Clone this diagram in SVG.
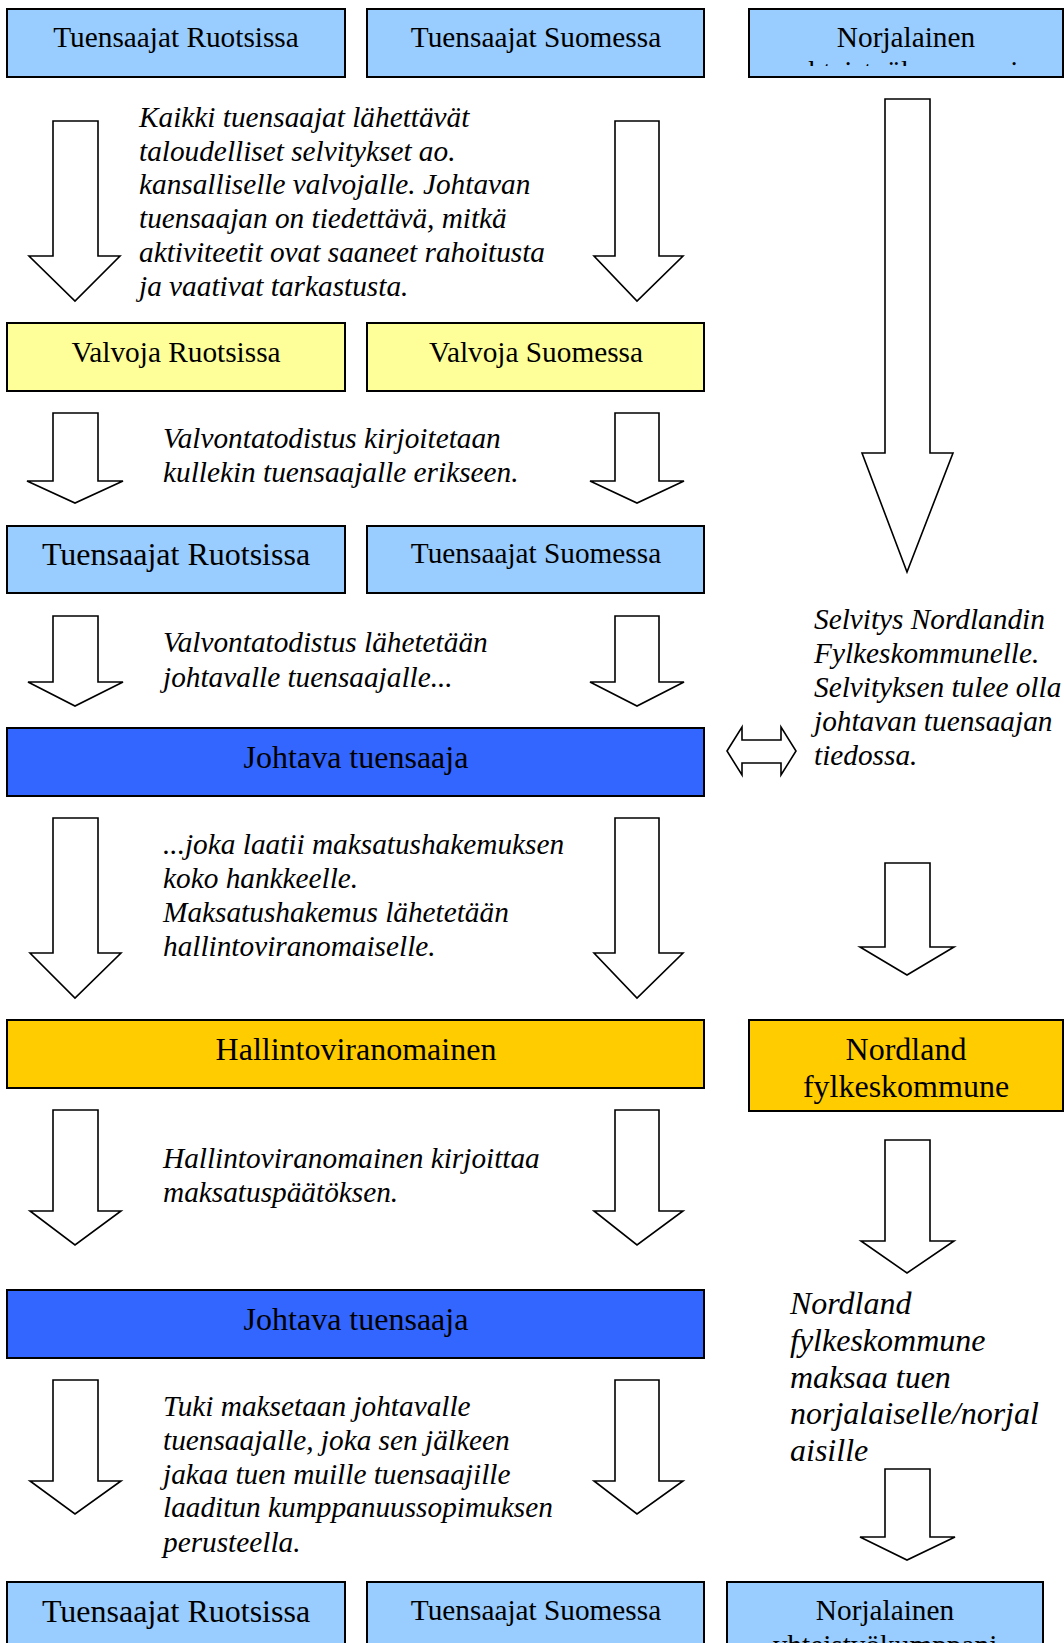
<svg xmlns="http://www.w3.org/2000/svg" width="1064" height="1643" viewBox="0 0 1064 1643">
<style>
.box{stroke:#000;stroke-width:2}
.lb{fill:#99CCFF}.yl{fill:#FFFF99}.db{fill:#3366FF}.gd{fill:#FFCC00}
.t{font-family:"Liberation Serif","Times New Roman",serif;fill:#000;text-anchor:middle}
.s29{font-size:29.3px}.s32{font-size:32px}
.p{font-family:"Liberation Serif","Times New Roman",serif;font-style:italic;fill:#000;font-size:29.3px}
.p32{font-size:32px}
.arr{fill:#fff;stroke:#000;stroke-width:1.6;stroke-linejoin:miter}
</style>
<defs>
<clipPath id="clipTopC"><rect x="749" y="9" width="314" height="57"/></clipPath>
<clipPath id="clipBotC"><rect x="727" y="1582" width="316" height="61"/></clipPath>
</defs>
<rect x="0" y="0" width="1064" height="1643" fill="#fff"/>

<g id="connectors">
<polygon class="arr" points="53,121 98,121 98,256 120,256 75,301 29,256 53,256"/>
<polygon class="arr" points="615,121 659,121 659,256 683,256 637,301 594,256 615,256"/>
<polygon class="arr" points="885,99 930,99 930,453 953,453 907,572 862,453 885,453"/>
<polygon class="arr" points="53,413 98,413 98,481 123,481 75,503 27,481 53,481"/>
<polygon class="arr" points="615,413 659,413 659,481 684,481 637,503 590,481 615,481"/>
<polygon class="arr" points="53,616 98,616 98,682 123,682 75,706 28,682 53,682"/>
<polygon class="arr" points="615,616 659,616 659,682 684,682 637,706 590,682 615,682"/>
<polygon class="arr" points="727,751 742,727 742,740 781,740 781,727 796,751 781,775 781,763 742,763 742,775"/>
<polygon class="arr" points="53,818 98,818 98,953 121,953 75,998 30,953 53,953"/>
<polygon class="arr" points="615,818 659,818 659,953 683,953 637,998 594,953 615,953"/>
<polygon class="arr" points="885,863 930,863 930,947 954,947 907,975 860,947 885,947"/>
<polygon class="arr" points="53,1110 98,1110 98,1211 121,1211 75,1245 30,1211 53,1211"/>
<polygon class="arr" points="615,1110 659,1110 659,1211 683,1211 637,1245 594,1211 615,1211"/>
<polygon class="arr" points="885,1140 930,1140 930,1241 954,1241 907,1273 861,1241 885,1241"/>
<polygon class="arr" points="53,1380 98,1380 98,1481 121,1481 75,1514 30,1481 53,1481"/>
<polygon class="arr" points="615,1380 659,1380 659,1481 683,1481 637,1514 594,1481 615,1481"/>
<polygon class="arr" points="885,1469 930,1469 930,1537 955,1537 907,1560 860,1537 885,1537"/>
</g>

<g id="n_top_ruotsi"><rect class="box lb" x="7" y="9" width="338" height="68"/><text class="t s29" x="176" y="47">Tuensaajat Ruotsissa</text></g>
<g id="n_top_suomi"><rect class="box lb" x="367" y="9" width="337" height="68"/><text class="t s29" x="536" y="47">Tuensaajat Suomessa</text></g>
<g id="n_top_norja"><rect class="box lb" x="749" y="9" width="314" height="68"/>
<g clip-path="url(#clipTopC)"><text class="t s29" x="906" y="47">Norjalainen</text><text class="t s29" x="906" y="80.5">yhteistyökumppani</text></g></g>

<g id="n_valvoja_ruotsi"><rect class="box yl" x="7" y="323" width="338" height="68"/><text class="t s29" x="176" y="362">Valvoja Ruotsissa</text></g>
<g id="n_valvoja_suomi"><rect class="box yl" x="367" y="323" width="337" height="68"/><text class="t s29" x="536" y="362">Valvoja Suomessa</text></g>

<g id="n_mid_ruotsi"><rect class="box lb" x="7" y="526" width="338" height="67"/><text class="t s32" x="176" y="565">Tuensaajat Ruotsissa</text></g>
<g id="n_mid_suomi"><rect class="box lb" x="367" y="526" width="337" height="67"/><text class="t s29" x="536" y="563">Tuensaajat Suomessa</text></g>

<g id="n_johtava1"><rect class="box db" x="7" y="728" width="697" height="68"/><text class="t s32" x="356" y="768">Johtava tuensaaja</text></g>

<g id="n_hallinto"><rect class="box gd" x="7" y="1020" width="697" height="68"/><text class="t s32" x="356" y="1060">Hallintoviranomainen</text></g>
<g id="n_nordland"><rect class="box gd" x="749" y="1020" width="314" height="91"/><text class="t s32" x="906" y="1060">Nordland</text><text class="t s32" x="906" y="1097">fylkeskommune</text></g>

<g id="n_johtava2"><rect class="box db" x="7" y="1290" width="697" height="68"/><text class="t s32" x="356" y="1330">Johtava tuensaaja</text></g>

<g id="n_bot_ruotsi"><rect class="box lb" x="7" y="1582" width="338" height="80"/><text class="t s32" x="176" y="1622">Tuensaajat Ruotsissa</text></g>
<g id="n_bot_suomi"><rect class="box lb" x="367" y="1582" width="337" height="80"/><text class="t s29" x="536" y="1620">Tuensaajat Suomessa</text></g>
<g id="n_bot_norja"><rect class="box lb" x="727" y="1582" width="316" height="80"/>
<g clip-path="url(#clipBotC)"><text class="t s29" x="885" y="1620">Norjalainen</text><text class="t s29" x="885" y="1655">yhteistyökumppani</text></g></g>

<g id="labels">
<text class="p" x="139" y="127">Kaikki tuensaajat lähettävät</text>
<text class="p" x="139" y="161">taloudelliset selvitykset ao.</text>
<text class="p" x="139" y="194">kansalliselle valvojalle. Johtavan</text>
<text class="p" x="139" y="228">tuensaajan on tiedettävä, mitkä</text>
<text class="p" x="139" y="262">aktiviteetit ovat saaneet rahoitusta</text>
<text class="p" x="139" y="296">ja vaativat tarkastusta.</text>

<text class="p" x="163" y="448">Valvontatodistus kirjoitetaan</text>
<text class="p" x="163" y="482">kullekin tuensaajalle erikseen.</text>

<text class="p" x="163" y="652">Valvontatodistus lähetetään</text>
<text class="p" x="163" y="687">johtavalle tuensaajalle...</text>

<text class="p" x="814" y="629">Selvitys Nordlandin</text>
<text class="p" x="814" y="663">Fylkeskommunelle.</text>
<text class="p" x="814" y="697">Selvityksen tulee olla</text>
<text class="p" x="814" y="731">johtavan tuensaajan</text>
<text class="p" x="814" y="765">tiedossa.</text>

<text class="p" x="163" y="854">...joka laatii maksatushakemuksen</text>
<text class="p" x="163" y="888">koko hankkeelle.</text>
<text class="p" x="163" y="922">Maksatushakemus lähetetään</text>
<text class="p" x="163" y="956">hallintoviranomaiselle.</text>

<text class="p" x="163" y="1168">Hallintoviranomainen kirjoittaa</text>
<text class="p" x="163" y="1202">maksatuspäätöksen.</text>

<text class="p" x="163" y="1416">Tuki maksetaan johtavalle</text>
<text class="p" x="163" y="1450">tuensaajalle, joka sen jälkeen</text>
<text class="p" x="163" y="1484">jakaa tuen muille tuensaajille</text>
<text class="p" x="163" y="1517">laaditun kumppanuussopimuksen</text>
<text class="p" x="163" y="1552">perusteella.</text>

<text class="p p32" x="790" y="1314">Nordland</text>
<text class="p p32" x="790" y="1351">fylkeskommune</text>
<text class="p p32" x="790" y="1388">maksaa tuen</text>
<text class="p p32" x="790" y="1424">norjalaiselle/norjal</text>
<text class="p p32" x="790" y="1461">aisille</text>
</g>
</svg>
